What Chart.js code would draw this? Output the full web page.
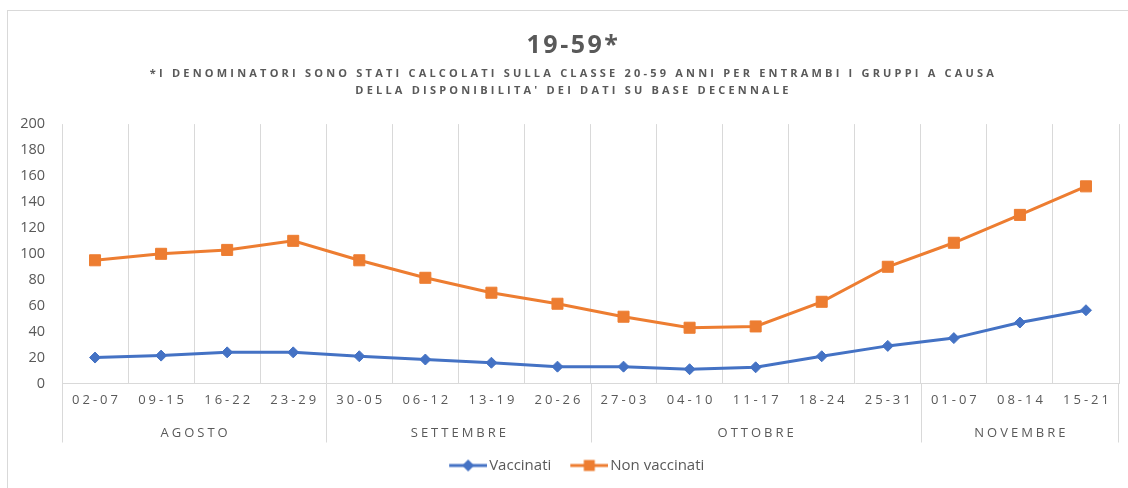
<!DOCTYPE html>
<html>
<head>
<meta charset="utf-8">
<script src="https://cdn.jsdelivr.net/npm/chart.js@4/dist/chart.umd.min.js"></script>
<style>
  html, body { margin: 0; padding: 0; background: #fff; overflow: hidden; }
  #frame { position: absolute; left: 7px; top: 10px; width: 1200px; height: 600px; border: 1px solid #d9d9d9; }
  #wrap { position: absolute; left: 0; top: 0; width: 1128px; height: 488px; }
</style>
</head>
<body>
<div id="frame"></div>
<div id="wrap"><canvas id="mygraph"></canvas></div>
<script>
// Dati
var settimane = ['02-07', '09-15', '16-22', '23-29', '30-05', '06-12', '13-19', '20-26',
                 '27-03', '04-10', '11-17', '18-24', '25-31', '01-07', '08-14', '15-21'];
var mesi = ['AGOSTO', 'SETTEMBRE', 'OTTOBRE', 'NOVEMBRE'];
var settimanePerMese = [4, 4, 5, 3];
var vaccinati = [20, 21.5, 24, 24, 21, 18.5, 16, 13, 13, 11, 12.5, 21, 29, 35, 47, 56.5];
var nonVaccinati = [95, 100, 103, 110, 95, 81.5, 70, 61.5, 51.5, 43, 44, 63, 90, 108.5, 130, 152];
var yTicks = [0, 20, 40, 60, 80, 100, 120, 140, 160, 180, 200];

var grigio = '#595959';
var blu = '#4472C4';
var arancio = '#ED7D31';

// piccolo simbolo per la legenda: linea + marcatore (spostato a destra verso il testo)
function simbolo(colore, tipo) {
    var c = document.createElement('canvas');
    c.width = 60; c.height = 14;
    var g = c.getContext('2d');
    g.strokeStyle = colore;
    g.lineWidth = 3;
    g.beginPath(); g.moveTo(22, 7); g.lineTo(60, 7); g.stroke();
    g.fillStyle = colore;
    g.beginPath();
    if (tipo === 'rect') {
        g.rect(41 - 5.5, 7 - 5.5, 11, 11);
    } else {
        g.moveTo(41, 1); g.lineTo(47, 7); g.lineTo(41, 13); g.lineTo(35, 7); g.closePath();
    }
    g.fill();
    return c;
}
var simboli = [simbolo(blu, 'rectRot'), simbolo(arancio, 'rect')];

// spaziatura lettere e centratura per titolo, sottotitolo e legenda
var spaziatura = {
    id: 'spaziatura',
    afterLayout: function(chart) {
        chart.boxes.forEach(function(b) {
            if (b._spaziato || b instanceof Chart.Scale) return;
            var legenda = (b === chart.legend);
            var sp = legenda ? '0px' : (b === chart.titleBlock ? '2.5px' : '3.2px');
            var dx = legenda ? 9 : 14;
            var draw = b.draw;
            b.draw = function(area) {
                var ctx = this.ctx;
                ctx.save();
                ctx.translate(dx, 0);
                ctx.letterSpacing = sp;
                draw.call(this, area);
                ctx.letterSpacing = '0px';
                ctx.restore();
            };
            b._spaziato = true;
        });
    }
};

// etichette asse x su due livelli (settimane e mesi)
var assiMesi = {
    id: 'assiMesi',
    afterDraw: function(chart) {
        var ctx = chart.ctx;
        var x = chart.scales.x;
        var bottom = chart.chartArea.bottom;
        var meta = (x.getPixelForValue(1) - x.getPixelForValue(0)) / 2;
        ctx.save();
        ctx.letterSpacing = '3px';
        ctx.fillStyle = grigio;
        ctx.textAlign = 'center';
        ctx.textBaseline = 'middle';
        ctx.font = "13px 'Open Sans'";
        for (var i = 0; i < settimane.length; i++) {
            ctx.fillText(settimane[i], x.getPixelForValue(i) + 1.5, bottom + 17);
        }
        ctx.strokeStyle = '#d9d9d9';
        ctx.lineWidth = 1;
        var start = 0;
        for (var m = 0; m < mesi.length; m++) {
            var fine = start + settimanePerMese[m] - 1;
            var xs = x.getPixelForValue(start) - meta;
            var xe = x.getPixelForValue(fine) + meta;
            ctx.beginPath();
            ctx.moveTo(Math.round(xs) + 0.5, bottom);
            ctx.lineTo(Math.round(xs) + 0.5, bottom + 59);
            ctx.stroke();
            if (m === mesi.length - 1) {
                ctx.beginPath();
                ctx.moveTo(Math.round(xe) - 0.5, bottom);
                ctx.lineTo(Math.round(xe) - 0.5, bottom + 59);
                ctx.stroke();
            }
            ctx.fillText(mesi[m], (xs + xe) / 2 + 1.5, bottom + 50);
            start = fine + 1;
        }
        ctx.restore();
    }
};

var ctx = document.getElementById('mygraph');

var datiGrafico = {
    labels: settimane,
    datasets: [
        {
            label: 'Vaccinati',
            data: vaccinati,
            borderColor: blu,
            backgroundColor: blu,
            borderWidth: 3,
            pointStyle: 'rectRot',
            pointRadius: 5.5,
            pointBorderWidth: 1,
            tension: 0
        },
        {
            label: 'Non vaccinati',
            data: nonVaccinati,
            borderColor: arancio,
            backgroundColor: arancio,
            borderWidth: 3,
            pointStyle: 'rect',
            pointRadius: 7.8,
            pointBorderWidth: 1,
            tension: 0
        }
    ]
};

var opzioni = {
    responsive: false,
    animation: false,
    layout: { padding: { left: 0, right: 9, top: 0, bottom: 5 } },
    plugins: {
        title: {
            display: true,
            text: '19-59*',
            color: grigio,
            font: { family: "'Open Sans'", size: 25, weight: 'bold', lineHeight: 1.2 },
            padding: { top: 31, bottom: 0 }
        },
        subtitle: {
            display: true,
            text: ["*I DENOMINATORI SONO STATI CALCOLATI SULLA CLASSE 20-59 ANNI PER ENTRAMBI I GRUPPI A CAUSA",
                   "DELLA DISPONIBILITA' DEI DATI SU BASE DECENNALE"],
            color: grigio,
            font: { family: "'Open Sans'", size: 11, weight: 'bold', lineHeight: 1.55 },
            padding: { top: 4, bottom: 25 }
        },
        legend: {
            display: true,
            position: 'bottom',
            labels: {
                color: grigio,
                font: { family: "'Open Sans'", size: 15 },
                usePointStyle: true,
                pointStyleWidth: 49,
                padding: 2.5,
                generateLabels: function(chart) {
                    return chart.data.datasets.map(function(ds, i) {
                        return {
                            text: ds.label,
                            fontColor: grigio,
                            pointStyle: simboli[i],
                            datasetIndex: i,
                            hidden: false,
                            lineWidth: 0
                        };
                    });
                }
            }
        },
        tooltip: { enabled: false }
    },
    scales: {
        x: {
            offset: true,
            grid: { display: true, offset: true, color: '#d9d9d9', drawTicks: false },
            border: { display: true, color: '#d9d9d9' },
            ticks: { display: false },
            afterFit: function(scale) { scale.height = 72; }
        },
        y: {
            min: 0,
            max: 200,
            afterBuildTicks: function(scale) {
                scale.ticks = yTicks.map(function(v) { return { value: v }; });
            },
            grid: { display: false, drawTicks: false },
            border: { display: false },
            ticks: {
                color: grigio,
                padding: 17,
                font: { family: "'Open Sans'", size: 14.5 }
            },
            afterFit: function(scale) { scale.width = 62; }
        }
    }
};

ctx.width = 1128;
ctx.height = 488;
var myGraph = new Chart(ctx, {
    type: 'line',
    data: datiGrafico,
    options: opzioni,
    plugins: [spaziatura, assiMesi]
});
</script>
</body>
</html>
